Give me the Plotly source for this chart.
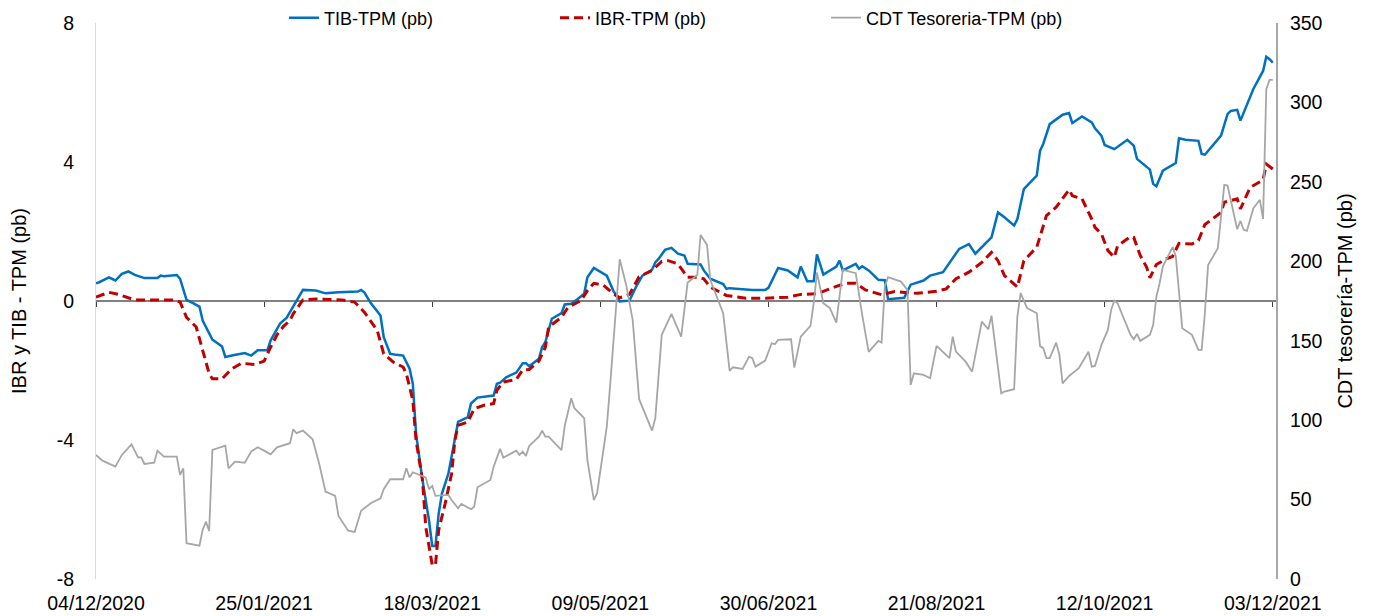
import plotly.graph_objects as go

# ---------------- data ----------------
tib_fechas = ["2020-12-04","2020-12-05","2020-12-08","2020-12-10","2020-12-12","2020-12-14","2020-12-16","2020-12-19","2020-12-23","2020-12-24","2020-12-25","2020-12-29","2020-12-30",
"2021-01-01","2021-01-03","2021-01-05","2021-01-06","2021-01-08","2021-01-09","2021-01-12","2021-01-13","2021-01-15","2021-01-19","2021-01-21","2021-01-23","2021-01-26","2021-01-27","2021-01-29","2021-01-30",
"2021-02-01","2021-02-04","2021-02-06","2021-02-10","2021-02-13","2021-02-17","2021-02-23","2021-02-24","2021-02-25","2021-02-27",
"2021-03-02","2021-03-03","2021-03-05","2021-03-07","2021-03-09","2021-03-10","2021-03-11","2021-03-12","2021-03-13","2021-03-15","2021-03-17","2021-03-18","2021-03-19","2021-03-20","2021-03-21","2021-03-23","2021-03-25","2021-03-26","2021-03-29","2021-03-30",
"2021-04-01","2021-04-03","2021-04-06","2021-04-07","2021-04-08","2021-04-10","2021-04-13","2021-04-15","2021-04-16","2021-04-17","2021-04-20","2021-04-21","2021-04-22","2021-04-24","2021-04-27","2021-04-28","2021-04-30",
"2021-05-02","2021-05-04","2021-05-05","2021-05-07","2021-05-11","2021-05-13","2021-05-15","2021-05-18","2021-05-20","2021-05-22","2021-05-25","2021-05-26","2021-05-27","2021-05-29","2021-05-31",
"2021-06-02","2021-06-04","2021-06-05","2021-06-09","2021-06-10","2021-06-12","2021-06-16","2021-06-17","2021-06-18","2021-06-25","2021-06-29","2021-06-30",
"2021-07-03","2021-07-06","2021-07-09","2021-07-10","2021-07-12","2021-07-14","2021-07-15","2021-07-17","2021-07-21","2021-07-22","2021-07-23","2021-07-27","2021-07-28","2021-07-29","2021-07-31",
"2021-08-02","2021-08-03","2021-08-05","2021-08-06","2021-08-11","2021-08-13","2021-08-17","2021-08-19","2021-08-23","2021-08-28","2021-08-31",
"2021-09-02","2021-09-07","2021-09-09","2021-09-11","2021-09-14","2021-09-15","2021-09-17","2021-09-21","2021-09-22","2021-09-23","2021-09-25","2021-09-29",
"2021-10-01","2021-10-02","2021-10-05","2021-10-08","2021-10-09","2021-10-11","2021-10-12","2021-10-15","2021-10-19","2021-10-21","2021-10-22","2021-10-26","2021-10-27","2021-10-28","2021-10-30",
"2021-11-03","2021-11-04","2021-11-06","2021-11-10","2021-11-11","2021-11-12","2021-11-17","2021-11-19","2021-11-20","2021-11-22","2021-11-23","2021-11-25","2021-11-27","2021-11-30",
"2021-12-01","2021-12-02","2021-12-03"]
tib_valores = [0.51,0.54,0.68,0.59,0.78,0.85,0.75,0.66,0.66,0.73,0.71,0.75,0.64,
0.03,-0.06,-0.16,-0.56,-0.94,-1.11,-1.31,-1.61,-1.57,-1.50,-1.57,-1.42,-1.42,-1.14,-0.80,-0.64,
-0.48,0.01,0.32,0.30,0.22,0.25,0.27,0.32,0.25,-0.06,
-0.42,-1.04,-1.52,-1.55,-1.57,-1.76,-1.95,-2.38,-3.82,-5.16,-6.31,-7.05,-7.05,-6.12,-5.54,-4.97,-3.91,-3.48,-3.34,-2.95,
-2.78,-2.76,-2.72,-2.38,-2.35,-2.19,-2.06,-1.79,-1.79,-1.88,-1.66,-1.33,-1.18,-0.51,-0.35,-0.10,-0.08,
0.06,0.21,0.68,0.95,0.73,0.30,-0.01,0.01,0.40,0.73,0.90,1.11,1.21,1.47,1.53,
1.36,1.31,1.07,1.05,0.88,0.64,0.49,0.35,0.37,0.32,0.32,0.38,
0.95,0.88,0.68,0.99,0.57,0.57,1.34,0.76,0.99,1.16,0.88,1.07,0.93,1.00,0.88,
0.70,0.61,0.60,0.05,0.09,0.47,0.59,0.73,0.83,1.50,1.64,
1.36,1.83,2.55,2.41,2.17,2.36,3.22,3.61,4.32,4.52,5.09,5.36,
5.41,5.12,5.31,5.14,4.97,4.76,4.49,4.37,4.64,4.47,4.09,3.78,3.37,3.30,3.75,
3.97,4.68,4.64,4.61,4.23,4.21,4.76,5.38,5.47,5.50,5.19,5.62,6.10,6.62,
7.03,6.96,6.86]

ibr_fechas = ["2020-12-04","2020-12-08","2020-12-11","2020-12-15","2020-12-17","2020-12-28","2020-12-30",
"2021-01-01","2021-01-04","2021-01-06","2021-01-08","2021-01-09","2021-01-12","2021-01-15","2021-01-18","2021-01-22","2021-01-25","2021-01-27","2021-01-29","2021-01-31",
"2021-02-02","2021-02-03","2021-02-06","2021-02-10","2021-02-18","2021-02-22","2021-02-25",
"2021-03-01","2021-03-03","2021-03-06","2021-03-09","2021-03-10","2021-03-12","2021-03-13","2021-03-15","2021-03-16","2021-03-18","2021-03-19","2021-03-20","2021-03-22","2021-03-24","2021-03-25","2021-03-26","2021-03-29","2021-03-31",
"2021-04-03","2021-04-06","2021-04-07","2021-04-09","2021-04-13","2021-04-15","2021-04-17","2021-04-20","2021-04-22","2021-04-23","2021-04-27","2021-04-29",
"2021-05-03","2021-05-05","2021-05-07","2021-05-10","2021-05-13","2021-05-15","2021-05-18","2021-05-21","2021-05-25","2021-05-28","2021-05-30",
"2021-06-02","2021-06-05","2021-06-08","2021-06-10","2021-06-12","2021-06-17","2021-06-23","2021-06-29",
"2021-07-06","2021-07-10","2021-07-15","2021-07-21","2021-07-24","2021-07-27","2021-07-30",
"2021-08-04","2021-08-08","2021-08-12","2021-08-15","2021-08-21","2021-08-24","2021-08-27","2021-08-31",
"2021-09-04","2021-09-07","2021-09-09","2021-09-11","2021-09-15","2021-09-17","2021-09-21","2021-09-24","2021-09-27",
"2021-10-01","2021-10-02","2021-10-05","2021-10-08","2021-10-09","2021-10-11","2021-10-13","2021-10-15","2021-10-16","2021-10-20","2021-10-21","2021-10-23","2021-10-25","2021-10-26","2021-10-28","2021-10-31",
"2021-11-02","2021-11-04","2021-11-08","2021-11-10","2021-11-12","2021-11-17","2021-11-18","2021-11-22","2021-11-23","2021-11-26","2021-11-30",
"2021-12-01","2021-12-03"]
ibr_valores = [0.11,0.25,0.19,0.06,0.03,0.03,-0.03,
-0.47,-0.75,-1.42,-2.09,-2.24,-2.24,-1.95,-1.79,-1.83,-1.73,-1.33,-0.97,-0.73,
-0.56,-0.37,0.03,0.06,0.03,-0.03,-0.32,
-0.85,-1.52,-1.76,-1.90,-2.09,-2.86,-4.01,-5.16,-6.50,-7.60,-7.60,-6.59,-5.83,-4.97,-4.01,-3.58,-3.48,-3.10,
-3.00,-2.95,-2.57,-2.33,-2.26,-1.98,-1.97,-1.73,-1.33,-0.75,-0.47,-0.18,
0.01,0.30,0.51,0.45,0.21,0.09,0.19,0.70,0.88,1.14,1.16,
1.07,0.68,0.68,0.64,0.40,0.16,0.08,0.08,
0.11,0.19,0.21,0.42,0.51,0.51,0.32,
0.18,0.27,0.24,0.22,0.28,0.35,0.64,0.83,
1.11,1.40,1.16,0.73,0.40,1.16,1.55,2.46,2.70,
3.20,3.03,2.94,2.36,2.12,1.93,1.45,1.26,1.59,1.85,1.83,1.31,0.97,0.67,1.05,1.21,
1.28,1.66,1.64,1.74,2.20,2.55,2.84,2.94,2.65,3.27,3.48,
3.94,3.80]

cdt_fechas = ["2020-12-04","2020-12-06","2020-12-10","2020-12-12","2020-12-15","2020-12-17","2020-12-18","2020-12-19","2020-12-22","2020-12-23","2020-12-25","2020-12-29","2020-12-30","2020-12-31",
"2021-01-01","2021-01-05","2021-01-06","2021-01-07","2021-01-08","2021-01-09","2021-01-13","2021-01-14","2021-01-16","2021-01-19","2021-01-21","2021-01-23","2021-01-25","2021-01-27","2021-01-29",
"2021-02-02","2021-02-03","2021-02-04","2021-02-06","2021-02-09","2021-02-11","2021-02-13","2021-02-16","2021-02-17","2021-02-20","2021-02-22","2021-02-24","2021-02-27",
"2021-03-02","2021-03-03","2021-03-05","2021-03-09","2021-03-10","2021-03-11","2021-03-12","2021-03-16","2021-03-17","2021-03-18","2021-03-19","2021-03-23","2021-03-24","2021-03-26","2021-03-27","2021-03-30","2021-03-31",
"2021-04-01","2021-04-05","2021-04-06","2021-04-08","2021-04-09","2021-04-13","2021-04-14","2021-04-15","2021-04-16","2021-04-17","2021-04-20","2021-04-21","2021-04-22","2021-04-23","2021-04-27","2021-04-28","2021-04-30",
"2021-05-01","2021-05-04","2021-05-05","2021-05-07","2021-05-08","2021-05-11","2021-05-12","2021-05-14","2021-05-15","2021-05-17","2021-05-19","2021-05-21","2021-05-25","2021-05-26","2021-05-28","2021-05-31",
"2021-06-03","2021-06-05","2021-06-08","2021-06-09","2021-06-11","2021-06-12","2021-06-16","2021-06-18","2021-06-19","2021-06-22","2021-06-24","2021-06-25","2021-06-26","2021-06-29",
"2021-07-01","2021-07-02","2021-07-03","2021-07-07","2021-07-08","2021-07-10","2021-07-13","2021-07-14","2021-07-15","2021-07-17","2021-07-19","2021-07-21","2021-07-23","2021-07-27","2021-07-29","2021-07-31",
"2021-08-02","2021-08-03","2021-08-04","2021-08-05","2021-08-06","2021-08-10","2021-08-12","2021-08-13","2021-08-14","2021-08-17","2021-08-19","2021-08-21","2021-08-25","2021-08-26","2021-08-27","2021-08-30",
"2021-09-01","2021-09-04","2021-09-06","2021-09-07","2021-09-10","2021-09-11","2021-09-14","2021-09-15","2021-09-16","2021-09-18","2021-09-21","2021-09-22","2021-09-23","2021-09-24","2021-09-25","2021-09-27","2021-09-28","2021-09-29",
"2021-10-01","2021-10-04","2021-10-07","2021-10-08","2021-10-09","2021-10-11","2021-10-13","2021-10-14","2021-10-15","2021-10-16","2021-10-20","2021-10-21","2021-10-22","2021-10-23","2021-10-26","2021-10-27","2021-10-28","2021-10-29","2021-10-30",
"2021-11-02","2021-11-03","2021-11-05","2021-11-08","2021-11-10","2021-11-11","2021-11-12","2021-11-13","2021-11-16","2021-11-18","2021-11-19","2021-11-22","2021-11-23","2021-11-24","2021-11-25","2021-11-27","2021-11-29","2021-11-30",
"2021-12-01","2021-12-02","2021-12-03"]
cdt_valores = [78.1,74.5,70.7,78.1,84.8,76.6,76.6,72.4,73.2,80.8,77.0,77.0,65.5,69.7,
22.5,21.0,30.9,36.1,30.2,81.2,83.9,69.7,73.9,73.2,80.2,82.9,80.8,78.5,82.9,
85.5,94.3,91.8,93.4,88.0,72.9,55.0,52.3,39.7,30.4,29.6,43.0,47.7,
50.8,56.5,62.8,62.8,69.7,64.0,67.2,64.0,56.5,58.6,52.3,52.9,49.7,44.5,47.2,43.9,45.5,
57.7,62.3,70.7,81.9,76.4,80.8,78.1,80.2,77.5,83.8,89.6,93.4,89.6,89.6,81.2,96.5,113.8,
107.5,101.2,74.9,49.7,54.0,95.9,121.1,173.6,201.3,185.1,163.1,113.2,93.4,101.2,153.7,166.9,
152.6,186.6,191.4,216.6,210.3,188.3,167.3,131.0,133.3,132.2,140.0,139.0,133.7,137.5,
148.4,147.8,150.5,150.9,133.1,152.6,159.3,173.6,192.9,173.6,170.5,161.4,194.6,192.5,166.2,143.0,
148.0,149.9,148.8,184.1,190.0,187.2,182.0,122.2,129.5,128.5,126.4,146.7,139.0,152.6,143.1,136.8,
130.5,162.0,157.2,165.8,116.9,118.0,119.5,165.2,179.9,170.5,167.3,146.7,145.3,139.0,139.0,148.8,141.1,123.2,
127.8,132.7,143.1,133.7,134.1,147.4,156.8,169.4,175.3,173.6,153.7,150.9,154.3,149.9,153.7,159.9,177.8,186.2,196.7,
208.9,203.4,157.9,153.7,144.2,144.2,167.3,197.7,208.2,248.1,247.7,220.2,225.4,219.8,219.1,233.4,238.7,226.7,
308.4,314.2,314.2]

x_ticks = ["2020-12-04","2021-01-25","2021-03-18","2021-05-09","2021-06-30","2021-08-21","2021-10-12","2021-12-03"]
x_labels = ["04/12/2020","25/01/2021","18/03/2021","09/05/2021","30/06/2021","21/08/2021","12/10/2021","03/12/2021"]
y_izq_ticks = [-8, -4, 0, 4, 8]
y_izq_labels = ["-8", "-4", "0", "4", "8"]
y_der_ticks = [0, 50, 100, 150, 200, 250, 300, 350]
x_rango = ["2020-12-04", "2021-12-04"]

FONT = "Arial, Liberation Sans, sans-serif"

fig = go.Figure()
fig.add_trace(go.Scatter(x=tib_fechas, y=tib_valores, mode="lines", name="TIB-TPM (pb)",
                         line=dict(color="#0070C0", width=2.5)))
fig.add_trace(go.Scatter(x=ibr_fechas, y=ibr_valores, mode="lines", name="IBR-TPM (pb)",
                         line=dict(color="#C00000", width=3, dash="9px,5px")))
fig.add_trace(go.Scatter(x=cdt_fechas, y=cdt_valores, mode="lines", name="CDT Tesoreria-TPM (pb)",
                         line=dict(color="#A6A6A6", width=1.8), xaxis="x2", yaxis="y2"))

fig.update_layout(
    width=1366, height=608,
    margin=dict(l=88, r=98, t=15, b=37, autoexpand=False),
    paper_bgcolor="white", plot_bgcolor="white",
    font=dict(family=FONT, color="#000000", size=18),
    showlegend=True,
    legend=dict(orientation="h", x=0.1593, xanchor="left", y=1.009, yanchor="middle",
                entrywidth=226, entrywidthmode="pixels",
                font=dict(size=18, family=FONT, color="#000000"), bgcolor="rgba(0,0,0,0)"),
    xaxis=dict(type="date", range=x_rango, tickvals=x_ticks, ticktext=x_labels, automargin=False,
               showgrid=False, showline=False, zeroline=False, ticks="",
               tickfont=dict(size=19.5, family=FONT, color="#000000"),
               ticklabelstandoff=10),
    xaxis2=dict(type="date", matches="x", overlaying="x", anchor="free", position=0.5, automargin=False,
                tickvals=x_ticks, showticklabels=False, showgrid=False, showline=False,
                zeroline=False, ticks="outside", ticklen=5, tickwidth=1, tickcolor="#404040"),
    yaxis=dict(range=[-8, 8], tickvals=y_izq_ticks, ticktext=y_izq_labels, showgrid=False, automargin=False,
               zeroline=True, zerolinecolor="#808080", zerolinewidth=2,
               showline=True, linecolor="#D9D9D9", linewidth=1, ticks="",
               tickfont=dict(size=19.5, family=FONT, color="#000000"),
               ticklabelstandoff=17,
               title=dict(text="IBR y TIB - TPM (pb)", font=dict(size=20, family=FONT, color="#000000"), standoff=28)),
    yaxis2=dict(range=[0, 350], tickvals=y_der_ticks, overlaying="y", side="right", anchor="x2", automargin=False,
                showgrid=False, zeroline=False, showline=True, linecolor="#A6A6A6", linewidth=2,
                ticks="", tickfont=dict(size=19.5, family=FONT, color="#000000"),
                ticklabelstandoff=8,
                title=dict(text="CDT tesorería-TPM (pb)", font=dict(size=20, family=FONT, color="#000000"), standoff=16)),
)

fig.write_html("out.html")
